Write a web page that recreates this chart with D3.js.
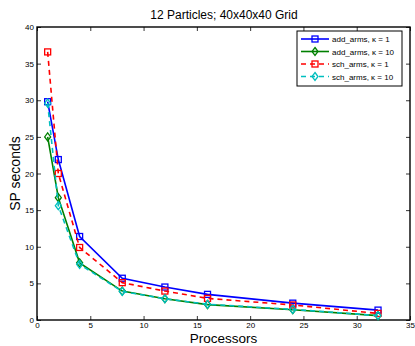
<!DOCTYPE html>
<html><head><meta charset="utf-8">
<script src="https://cdn.jsdelivr.net/npm/d3@7"></script>
<style>body{margin:0;background:#fff;}svg{display:block;font-family:"Liberation Sans",Arial,sans-serif;}</style>
</head><body>
<svg id="c" width="415" height="346"></svg>
<script>
const processors = [1, 2, 4, 8, 12, 16, 24, 32];
const addArmsK1 = [29.8, 21.9, 11.4, 5.7, 4.5, 3.5, 2.3, 1.35];
const addArmsK10 = [25.0, 16.7, 7.8, 3.95, 2.9, 2.1, 1.4, 0.6];
const schArmsK1 = [36.6, 20.0, 9.9, 5.1, 3.95, 2.95, 2.05, 0.9];
const schArmsK10 = [29.6, 15.6, 7.6, 3.9, 2.9, 2.15, 1.45, 0.6];
const xTicks = [0, 5, 10, 15, 20, 25, 30, 35];
const yTicks = [0, 5, 10, 15, 20, 25, 30, 35, 40];
const seriesNames = ["add_arms, \u03ba = 1", "add_arms, \u03ba = 10", "sch_arms, \u03ba = 1", "sch_arms, \u03ba = 10"];

const series = [
  {name: seriesNames[0], vals: addArmsK1, color: "#0000ff", dash: null, marker: "square"},
  {name: seriesNames[1], vals: addArmsK10, color: "#008000", dash: null, marker: "diamond"},
  {name: seriesNames[2], vals: schArmsK1, color: "#ff0000", dash: "5,4", marker: "square"},
  {name: seriesNames[3], vals: schArmsK10, color: "#00bfbf", dash: "5,4", marker: "diamond"}
];

const L = 37, R = 410, T = 27, B = 320;
const svg = d3.select("#c");
const x = d3.scaleLinear().domain([0, 35]).range([L, R]);
const y = d3.scaleLinear().domain([0, 40]).range([B, T]);

const tk = 4;
const gx = svg.append("g").attr("transform", `translate(0,${B})`)
  .call(d3.axisBottom(x).tickValues(xTicks).tickSize(-tk).tickPadding(2));
const gxt = svg.append("g").attr("transform", `translate(0,${T})`)
  .call(d3.axisTop(x).tickValues(xTicks).tickSize(-tk).tickFormat(""));
const gy = svg.append("g").attr("transform", `translate(${L},0)`)
  .call(d3.axisLeft(y).tickValues(yTicks).tickSize(-tk).tickPadding(3));
const gyr = svg.append("g").attr("transform", `translate(${R},0)`)
  .call(d3.axisRight(y).tickValues(yTicks).tickSize(-tk).tickFormat(""));
[gx, gxt, gy, gyr].forEach(g => {
  g.select(".domain").remove();
  g.selectAll(".tick line").attr("stroke", "#000").attr("stroke-width", 0.8);
  g.selectAll("text").attr("font-size", 8).attr("fill", "#000").attr("font-family", "Liberation Sans, Arial, sans-serif");
});
svg.append("rect").attr("x", L).attr("y", T).attr("width", R - L).attr("height", B - T)
  .attr("fill", "none").attr("stroke", "#000").attr("stroke-width", 1.4);

const line = d3.line().x((d, i) => x(processors[i])).y(d => y(d));

function marker(g, m, cx, cy, color) {
  if (m === "square") {
    g.append("rect").attr("x", cx - 3).attr("y", cy - 3).attr("width", 6).attr("height", 6)
      .attr("fill", "none").attr("stroke", color).attr("stroke-width", 1.3);
  } else {
    g.append("path").attr("d", `M${cx},${cy-4}L${cx+3},${cy}L${cx},${cy+4}L${cx-3},${cy}Z`)
      .attr("fill", "none").attr("stroke", color).attr("stroke-width", 1.3);
  }
}

const plot = svg.append("g");
series.forEach(s => {
  plot.append("path").datum(s.vals).attr("d", line).attr("fill", "none")
    .attr("stroke", s.color).attr("stroke-width", 1.6)
    .attr("stroke-dasharray", s.dash);
  s.vals.forEach((v, i) => marker(plot, s.marker, x(processors[i]), y(v), s.color));
});

svg.append("text").attr("x", (L + R) / 2 + 0.5).attr("y", 19).attr("text-anchor", "middle")
  .attr("font-size", 12).text("12 Particles; 40x40x40 Grid");
svg.append("text").attr("x", (L + R) / 2).attr("y", 343).attr("text-anchor", "middle")
  .attr("font-size", 13.5).text("Processors");
svg.append("text").attr("transform", `translate(20,${(T + B) / 2}) rotate(-90)`).attr("text-anchor", "middle")
  .attr("font-size", 14).text("SP seconds");

const lg = svg.append("g");
const lx = 297, ly = 31, lw = 105, lh = 55;
lg.append("rect").attr("x", lx).attr("y", ly).attr("width", lw).attr("height", lh)
  .attr("fill", "#fff").attr("stroke", "#000").attr("stroke-width", 1);
series.forEach((s, i) => {
  const yy = ly + 8 + i * 12.5;
  lg.append("line").attr("x1", lx + 4).attr("x2", lx + 32).attr("y1", yy).attr("y2", yy)
    .attr("stroke", s.color).attr("stroke-width", 1.6).attr("stroke-dasharray", s.dash);
  marker(lg, s.marker, lx + 18, yy, s.color);
  lg.append("text").attr("x", lx + 35).attr("y", yy + 3).attr("font-size", 8).text(s.name);
});
</script>
</body></html>
